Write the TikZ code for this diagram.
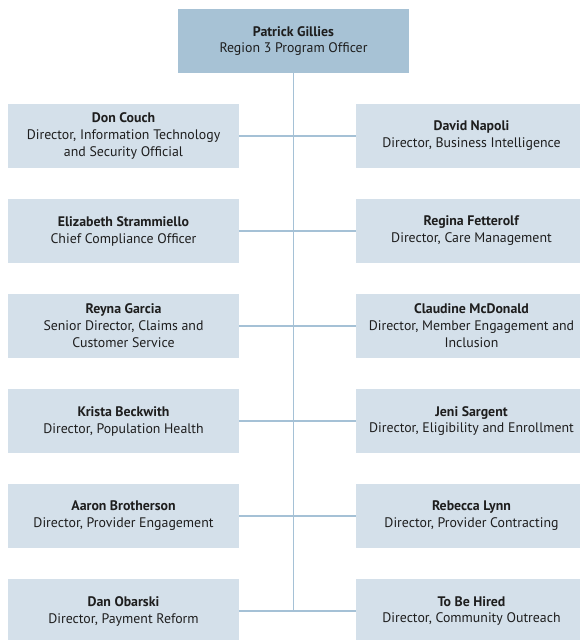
\documentclass[tikz,border=0pt]{standalone}
\usepackage{fontspec}
\setmainfont{PT Sans}
\definecolor{topfill}{RGB}{167,194,213}
\definecolor{boxfill}{RGB}{212,224,234}
\definecolor{linecol}{RGB}{165,193,214}
\definecolor{txt}{RGB}{30,30,30}
\begin{document}
\begin{tikzpicture}[x=1bp,y=-1bp,
  card/.style={fill=boxfill, draw=none, minimum width=231bp, minimum height=64bp,
    inner sep=0pt, align=center, text=txt, font=\fontsize{13.9}{17}\selectfont},
  topcard/.style={card, fill=topfill},
  conn/.style={draw=linecol, line width=1.1bp}]
\useasboundingbox (0,0) rectangle (580,640);
\clip (0,0) rectangle (580,640);
\node[topcard] (top) at (293.5,41) {\textbf{Patrick Gillies}\\Region 3 Program Officer};
\node[card] (l1) at (123.5,136) {\textbf{Don Couch}\\Director, Information Technology\\and Security Official};
\node[card] (l2) at (123.5,231) {\textbf{Elizabeth Strammiello}\\Chief Compliance Officer};
\node[card] (l3) at (123.5,326) {\textbf{Reyna Garcia}\\Senior Director, Claims and\\Customer Service};
\node[card] (l4) at (123.5,421) {\textbf{Krista Beckwith}\\Director, Population Health};
\node[card] (l5) at (123.5,516) {\textbf{Aaron Brotherson}\\Director, Provider Engagement};
\node[card] (l6) at (123.5,611) {\textbf{Dan Obarski}\\Director, Payment Reform};
\node[card] (r1) at (471.5,136) {\textbf{David Napoli}\\Director, Business Intelligence};
\node[card] (r2) at (471.5,231) {\textbf{Regina Fetterolf}\\Director, Care Management};
\node[card] (r3) at (471.5,326) {\textbf{Claudine McDonald}\\Director, Member Engagement and\\Inclusion};
\node[card] (r4) at (471.5,421) {\textbf{Jeni Sargent}\\Director, Eligibility and Enrollment};
\node[card] (r5) at (471.5,516) {\textbf{Rebecca Lynn}\\Director, Provider Contracting};
\node[card] (r6) at (471.5,611) {\textbf{To Be Hired}\\Director, Community Outreach};
\coordinate (vend) at (293.5,611);
\draw[conn] (top.south) -- (vend);
\foreach \i in {1,...,6} {\draw[conn] (l\i.east) -- (r\i.west);}
\end{tikzpicture}
\end{document}
